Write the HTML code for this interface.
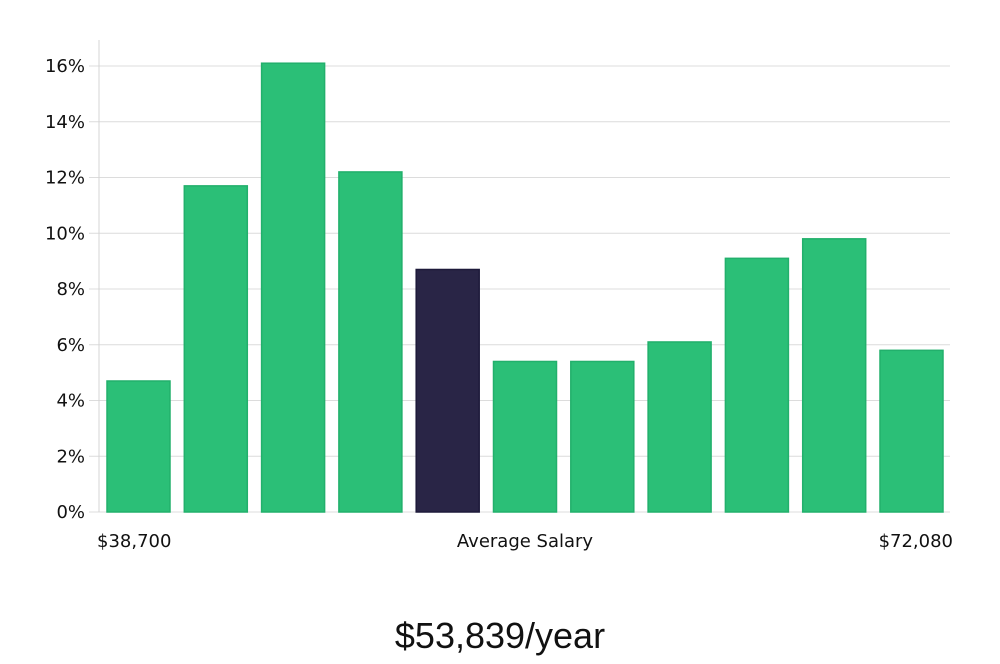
<!DOCTYPE html>
<html><head><meta charset="utf-8"><style>
html,body{margin:0;padding:0;background:#fff;}
body{width:1000px;height:660px;overflow:hidden;font-family:"DejaVu Sans","Liberation Sans",sans-serif;}
</style></head><body>
<svg id="chart" width="1000" height="660" xmlns="http://www.w3.org/2000/svg">
<g id="grid"></g>
<g id="yaxis"></g>
<g id="bars"></g>
<text x="97" y="547" font-size="18" fill="#111">$38,700</text>
<text x="525" y="547" font-size="18" fill="#111" text-anchor="middle">Average Salary</text>
<text x="953" y="547" font-size="18" fill="#111" text-anchor="end">$72,080</text>
<text x="500" y="648" font-size="36" fill="#111" text-anchor="middle" font-family="Liberation Sans, sans-serif">$53,839/year</text>
</svg>
<script>
const categories = ["b1","b2","b3","b4","b5","b6","b7","b8","b9","b10","b11"];
const values = [4.7,11.7,16.1,12.2,8.7,5.4,5.4,6.1,9.1,9.8,5.8];
const highlightIndex = 4;
const yTicks = [0,2,4,6,8,10,12,14,16];
const yTickLabels = ["0%","2%","4%","6%","8%","10%","12%","14%","16%"];

const NS="http://www.w3.org/2000/svg";
const x0=99,x1=950,y0=512,yTop=66;
function yScale(v){return y0-(v/16)*(y0-yTop);}
const step=(x1-x0+4)/categories.length;
function xScale(i){return 107+i*77.3;}
const bw=63;
const grid=document.getElementById('grid'),yaxis=document.getElementById('yaxis'),bars=document.getElementById('bars');
const axis=document.createElementNS(NS,'line');


axis.setAttribute('x1',x0);axis.setAttribute('x2',x0);axis.setAttribute('y1',40);axis.setAttribute('y2',y0);
axis.setAttribute('stroke','#d4d4d4');axis.setAttribute('stroke-width','1');
yaxis.appendChild(axis);
yTicks.forEach((t,i)=>{
  const y=yScale(t);
  const l=document.createElementNS(NS,'line');
  
  
  l.setAttribute('x1',89);l.setAttribute('x2',x1);l.setAttribute('y1',y);l.setAttribute('y2',y);
  l.setAttribute('stroke','#dcdcdc');l.setAttribute('stroke-width','1');
  grid.appendChild(l);
  const tx=document.createElementNS(NS,'text');
  
  
  tx.setAttribute('x',85);tx.setAttribute('y',y+6);tx.setAttribute('text-anchor','end');
  tx.setAttribute('font-size','18');tx.setAttribute('fill','#111');
  tx.textContent=yTickLabels[i];
  yaxis.appendChild(tx);
});
values.forEach((v,i)=>{
  const r=document.createElementNS(NS,'rect');
  
  
  const y=yScale(v);
  r.setAttribute('x',xScale(i));r.setAttribute('y',y);r.setAttribute('width',bw);r.setAttribute('height',y0-y);
  const hl=i===highlightIndex;
  r.setAttribute('fill',hl?'#292546':'#2bbf77');
  r.setAttribute('stroke',hl?'#1d1a3a':'#22b06c');r.setAttribute('stroke-width','1.5');
  bars.appendChild(r);
});
</script>
</body></html>
